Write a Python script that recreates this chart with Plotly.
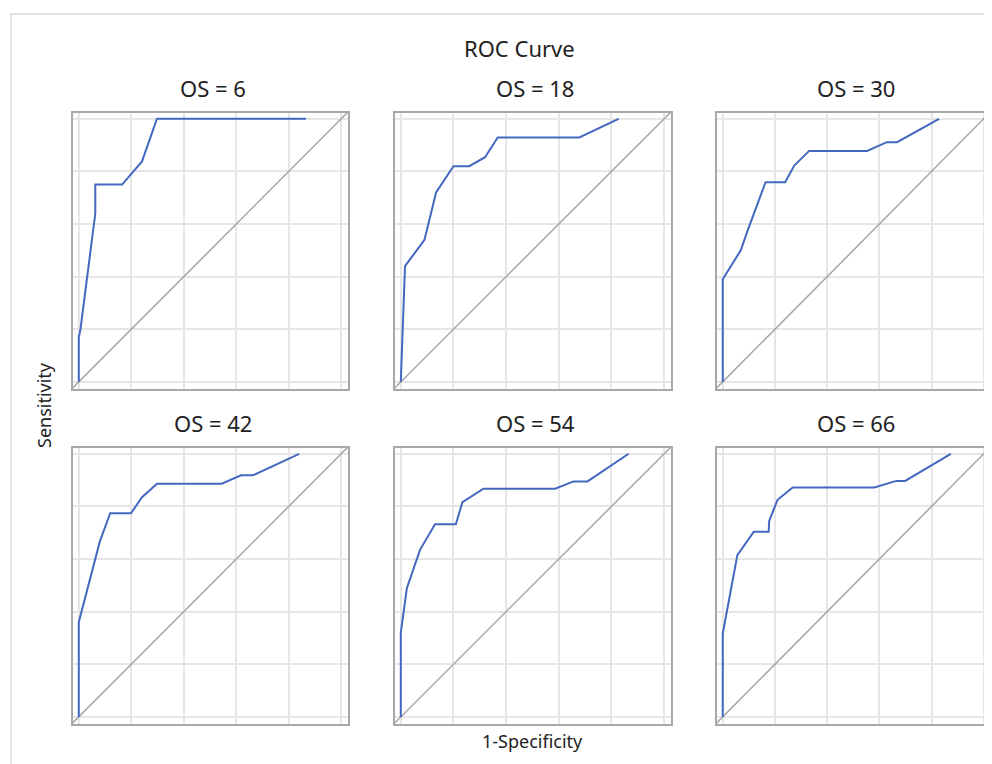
import plotly.graph_objects as go

# ---- data (1-Specificity, Sensitivity) ----
panel_titles = ["OS = 6", "OS = 18", "OS = 30", "OS = 42", "OS = 54", "OS = 66"]

fpr_os6 = [0, 0, 0.006, 0.063, 0.063, 0.165, 0.241, 0.298, 0.866]
tpr_os6 = [0, 0.17, 0.197, 0.64, 0.75, 0.75, 0.838, 1.0, 1.0]

fpr_os18 = [0, 0.006, 0.016, 0.09, 0.134, 0.2, 0.26, 0.32, 0.368, 0.678, 0.827]
tpr_os18 = [0, 0.2, 0.44, 0.54, 0.72, 0.82, 0.82, 0.854, 0.929, 0.929, 1.0]

fpr_os30 = [0, 0, 0.069, 0.096, 0.164, 0.239, 0.274, 0.331, 0.553, 0.629, 0.668, 0.829]
tpr_os30 = [0, 0.39, 0.50, 0.577, 0.759, 0.759, 0.822, 0.878, 0.878, 0.911, 0.911, 1.0]

fpr_os42 = [0, 0, 0.08, 0.12, 0.199, 0.241, 0.298, 0.545, 0.618, 0.663, 0.84]
tpr_os42 = [0, 0.36, 0.666, 0.774, 0.774, 0.835, 0.886, 0.886, 0.918, 0.918, 1.0]

fpr_os54 = [0, 0, 0.023, 0.073, 0.13, 0.209, 0.234, 0.314, 0.586, 0.656, 0.709, 0.865]
tpr_os54 = [0, 0.32, 0.489, 0.635, 0.732, 0.732, 0.816, 0.867, 0.867, 0.895, 0.895, 1.0]

fpr_os66 = [0, 0, 0.056, 0.119, 0.176, 0.178, 0.21, 0.268, 0.581, 0.665, 0.699, 0.874]
tpr_os66 = [0, 0.317, 0.615, 0.704, 0.704, 0.745, 0.825, 0.872, 0.872, 0.897, 0.897, 1.0]

diag_x = [-0.05, 1.05]
diag_y = [-0.05, 1.05]
grid_ticks = [0, 0.2, 0.4, 0.6, 0.8, 1.0]

curves = [(fpr_os6, tpr_os6), (fpr_os18, tpr_os18), (fpr_os30, tpr_os30),
          (fpr_os42, tpr_os42), (fpr_os54, tpr_os54), (fpr_os66, tpr_os66)]

W, H = 992, 764
OFF = 8  # page body margin of the browser
col_px = [(73, 348), (395, 671), (717, 990.5)]
row_px = [(113, 389), (448, 724)]


def px_x(v):
    return (v - OFF) / W


def px_y(v):
    return 1 - (v - OFF) / H


FONT = "Noto Sans, Open Sans, sans-serif"
fig = go.Figure()
layout = {}
annotations = []

for i, (fx, ty) in enumerate(curves):
    r, c = divmod(i, 3)
    n = "" if i == 0 else str(i + 1)
    xa, ya = "x" + n, "y" + n
    fig.add_trace(go.Scatter(x=diag_x, y=diag_y, mode="lines",
                             line=dict(color="#a6a6a6", width=1.5),
                             xaxis=xa, yaxis=ya, showlegend=False, hoverinfo="skip"))
    fig.add_trace(go.Scatter(x=fx, y=ty, mode="lines",
                             line=dict(color="#4468c0", width=2),
                             xaxis=xa, yaxis=ya, showlegend=False))
    x0, x1 = col_px[c]
    y0, y1 = row_px[r]
    common = dict(showticklabels=False, ticks="", showgrid=True, gridcolor="#e6e6e6",
                  gridwidth=1.5, tickvals=grid_ticks, zeroline=False, showline=True,
                  linecolor="#a8a8a8", linewidth=1.5, mirror=True, fixedrange=True)
    layout["xaxis" + n] = dict(domain=[px_x(x0), min(px_x(x1), 1.0)], range=[-0.022, 1.026],
                               anchor=ya, **common)
    layout["yaxis" + n] = dict(domain=[px_y(y1), px_y(y0)], range=[-0.027, 1.022],
                               anchor=xa, **common)
    annotations.append(dict(text=panel_titles[i], x=px_x((x0 + x1) / 2 + 2),
                            y=px_y(y0 - 25), xref="paper", yref="paper",
                            showarrow=False, yanchor="middle", xanchor="center",
                            font=dict(family=FONT, size=22, color="#222222")))

annotations.append(dict(text="ROC Curve", x=px_x(519), y=px_y(48), xref="paper", yref="paper",
                        showarrow=False, xanchor="center", yanchor="middle",
                        font=dict(family=FONT, size=22, color="#222222")))
annotations.append(dict(text="1-Specificity", x=px_x(532), y=px_y(741), xref="paper",
                        yref="paper", showarrow=False, xanchor="center", yanchor="middle",
                        font=dict(family=FONT, size=18, color="#222222")))
annotations.append(dict(text="Sensitivity", x=px_x(44), y=px_y(405), xref="paper",
                        yref="paper", showarrow=False, xanchor="center", yanchor="middle",
                        textangle=-90,
                        font=dict(family=FONT, size=18, color="#222222")))

fig.update_layout(**layout)
fig.update_layout(
    width=W, height=H, autosize=False,
    margin=dict(l=0, r=0, t=0, b=0),
    paper_bgcolor="white", plot_bgcolor="white",
    annotations=annotations,
    shapes=[dict(type="rect", xref="paper", yref="paper",
                 x0=px_x(11), x1=1.02, y0=-0.02, y1=px_y(14),
                 line=dict(color="#d9d9d9", width=1.5), layer="below")],
)

fig.write_html("out.html")
